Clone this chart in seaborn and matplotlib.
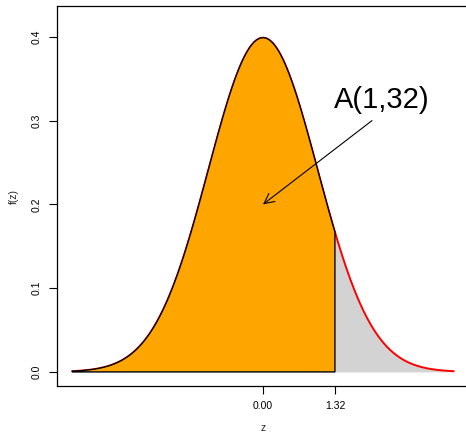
import numpy as np
import pandas as pd
import matplotlib
matplotlib.use("Agg")
import matplotlib.pyplot as plt
import seaborn as sns

# --- chart values ---
mu = 0.0
sigma = 1.0
z_min, z_max = -3.5, 3.5
z_cut = 1.32
x_ticks = [0.00, 1.32]
x_tick_labels = ["0.00", "1.32"]
y_ticks = [0.0, 0.1, 0.2, 0.3, 0.4]
y_tick_labels = ["0.0", "0.1", "0.2", "0.3", "0.4"]
label_text = "A(1,32)"
label_pos = (2.18, 0.325)
arrow_from = (2.0, 0.30)
arrow_to = (0.0, 0.20)

# standard normal density curve (the chart's function)
z = np.linspace(z_min, z_max, 701)
fz = np.exp(-0.5 * ((z - mu) / sigma) ** 2) / (sigma * np.sqrt(2 * np.pi))
df = pd.DataFrame({"z": z, "f": fz})

sns.set_style("white")
plt.rcParams["font.family"] = ["Liberation Sans", "DejaVu Sans"]

fig = plt.figure(figsize=(4.66, 4.32), dpi=100)
ax = fig.add_axes([57 / 466, 46 / 432, (469 - 57) / 466, (386 - 6) / 432])

# red density line
sns.lineplot(data=df, x="z", y="f", color="red", lw=1.4, ax=ax, zorder=2)

# gray right tail
right = df[df["z"] >= z_cut]
ax.fill_between(right["z"], 0, right["f"], color="#D3D3D3", lw=0, zorder=1)

# orange region with black border (polygon)
left = df[df["z"] <= z_cut]
fc = np.exp(-0.5 * ((z_cut - mu) / sigma) ** 2) / (sigma * np.sqrt(2 * np.pi))
px = np.concatenate([[z_min], left["z"].values, [z_cut, z_cut]])
py = np.concatenate([[0.0], left["f"].values, [fc, 0.0]])
ax.fill(px, py, facecolor="orange", edgecolor="black", lw=1.0, zorder=3)

# arrow and label
ax.annotate("", xy=arrow_to, xytext=arrow_from,
            arrowprops=dict(arrowstyle="->", color="black", lw=0.8,
                            mutation_scale=18, shrinkA=0, shrinkB=0),
            zorder=5)
ax.text(label_pos[0], label_pos[1], label_text, fontsize=21,
        ha="center", va="center", color="black", zorder=5)

ax.set_xlim(-3.78, 3.78)
ax.set_ylim(-0.0168, 0.4368)
ax.set_xticks(x_ticks)
ax.set_xticklabels(x_tick_labels)
ax.set_yticks(y_ticks)
ax.set_yticklabels(y_tick_labels, rotation=90, va="center")
ax.tick_params(axis="both", direction="out", length=6, width=0.8,
               labelsize=7.5, colors="black", pad=5, bottom=True, left=True)
ax.set_xlabel("z", fontsize=7.5, labelpad=8.5)
ax.set_ylabel("f(z)", fontsize=7.5, labelpad=9)
for s in ax.spines.values():
    s.set_color("black")
    s.set_linewidth(0.9)
ax.grid(False)

fig.savefig("out.png", dpi=100)
